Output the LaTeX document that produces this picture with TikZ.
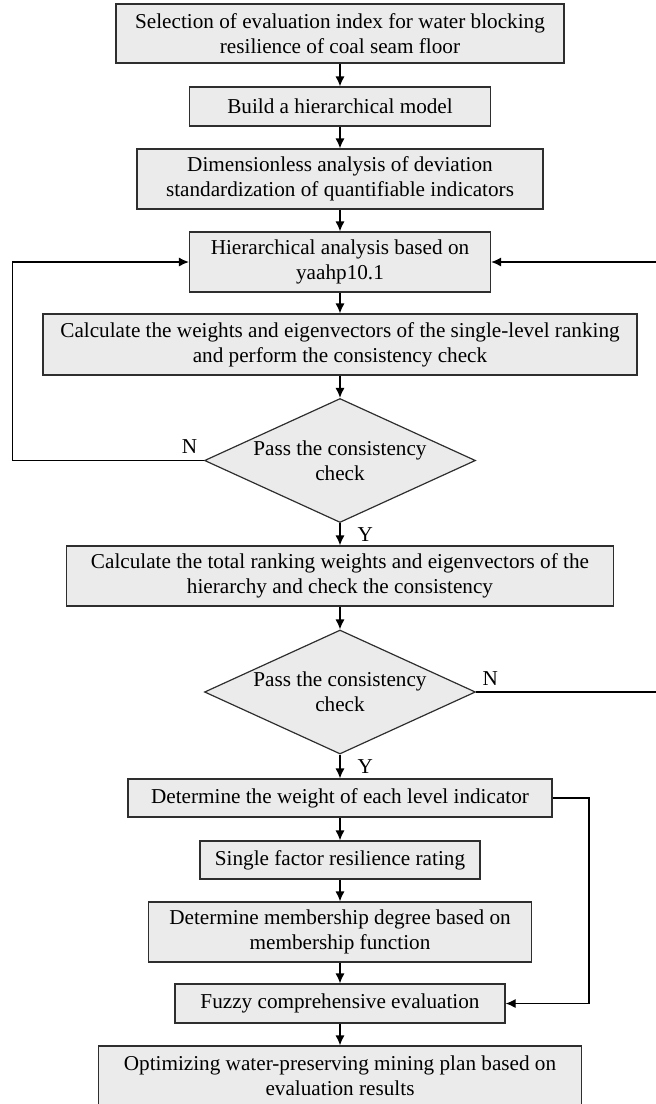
\documentclass[tikz,border=0pt]{standalone}
\usepackage{fontspec}
\setmainfont{Liberation Serif}
\usepackage{xcolor}
\usepackage{tikz}
\usetikzlibrary{arrows.meta,positioning,shapes.geometric}

\definecolor{boxfill}{HTML}{EBEBEB}
\definecolor{boxline}{HTML}{2E2E2E}

\tikzset{
  procbox/.style={rectangle,draw=boxline,fill=boxfill,line width=1.2pt,
    align=center,inner sep=0pt},
  decision/.style={diamond,aspect=2.185,draw=boxline,fill=boxfill,
    line width=1.2pt,align=center,inner sep=0pt,
    minimum width=271pt,minimum height=124pt},
  lbl/.style={inner sep=0pt}
}

\begin{document}
\begin{tikzpicture}[on grid,>={Latex[length=10pt,width=9pt]},line width=1.2pt,
    font=\fontsize{21.2}{25}\selectfont]
   \useasboundingbox (0,0) rectangle (656pt,-1104pt);
   \node[procbox,minimum width=448pt,minimum height=59pt] (select) at (340pt,-33.5pt)
      {Selection of evaluation index for water blocking\\resilience of coal seam floor};
   \node[procbox,minimum width=301pt,minimum height=39pt] (model) [below=73pt of select]
      {Build a hierarchical model};
   \node[procbox,minimum width=406pt,minimum height=60pt] (dimless) [below=72.5pt of model]
      {Dimensionless analysis of deviation\\standardization of quantifiable indicators};
   \node[procbox,minimum width=301pt,minimum height=60pt] (hier) [below=83pt of dimless]
      {Hierarchical analysis based on\\yaahp10.1};
   \node[procbox,minimum width=594pt,minimum height=61pt] (single) [below=82.5pt of hier]
      {Calculate the weights and eigenvectors of the single-level ranking\\and perform the consistency check};
   \node[decision] (checka) [below=116pt of single]
      {Pass the consistency\\check};
   \node[procbox,minimum width=547pt,minimum height=60pt] (total) [below=115.5pt of checka]
      {Calculate the total ranking weights and eigenvectors of the\\hierarchy and check the consistency};
   \node[decision] (checkb) [below=116pt of total]
      {Pass the consistency\\check};
   \node[procbox,minimum width=424pt,minimum height=38pt] (weight) [below=106pt of checkb]
      {Determine the weight of each level indicator};
   \node[procbox,minimum width=280pt,minimum height=38pt] (rating) [below=62pt of weight]
      {Single factor resilience rating};
   \node[procbox,minimum width=383pt,minimum height=60pt] (member) [below=72pt of rating]
      {Determine membership degree based on\\membership function};
   \node[procbox,minimum width=330pt,minimum height=39pt] (fuzzy) [below=71.5pt of member]
      {Fuzzy comprehensive evaluation};
   \node[procbox,minimum width=483pt,minimum height=60pt] (plan) [below=72.5pt of fuzzy]
      {Optimizing water-preserving mining plan based on\\evaluation results};

   % turning points of the side lines
   \coordinate (leftx) at (12.5pt,0);
   \coordinate (rightx) at (657pt,0);
   \coordinate (sidex) at (589pt,0);

   \path[->,draw=black]
     (select) edge (model)
     (model) edge (dimless)
     (dimless) edge (hier)
     (hier) edge (single)
     (single) edge (checka)
     (checka) edge node[lbl,right=17pt] {Y} (total)
     (total) edge (checkb)
     (checkb) edge node[lbl,right=17pt] {Y} (weight)
     (weight) edge (rating)
     (rating) edge (member)
     (member) edge (fuzzy)
     (fuzzy) edge (plan);

   \draw[->] (checka.west) -- node[pos=0,above left,inner sep=6pt] {N}
      (checka.west -| leftx) |- (hier.west);
   \draw[->] (checkb.east) -- node[pos=0,above right,inner sep=6pt] {N}
      (checkb.east -| rightx) |- (hier.east);
   \draw[->] (weight.east) -- (weight.east -| sidex) |- (fuzzy.east);
\end{tikzpicture}
\end{document}
